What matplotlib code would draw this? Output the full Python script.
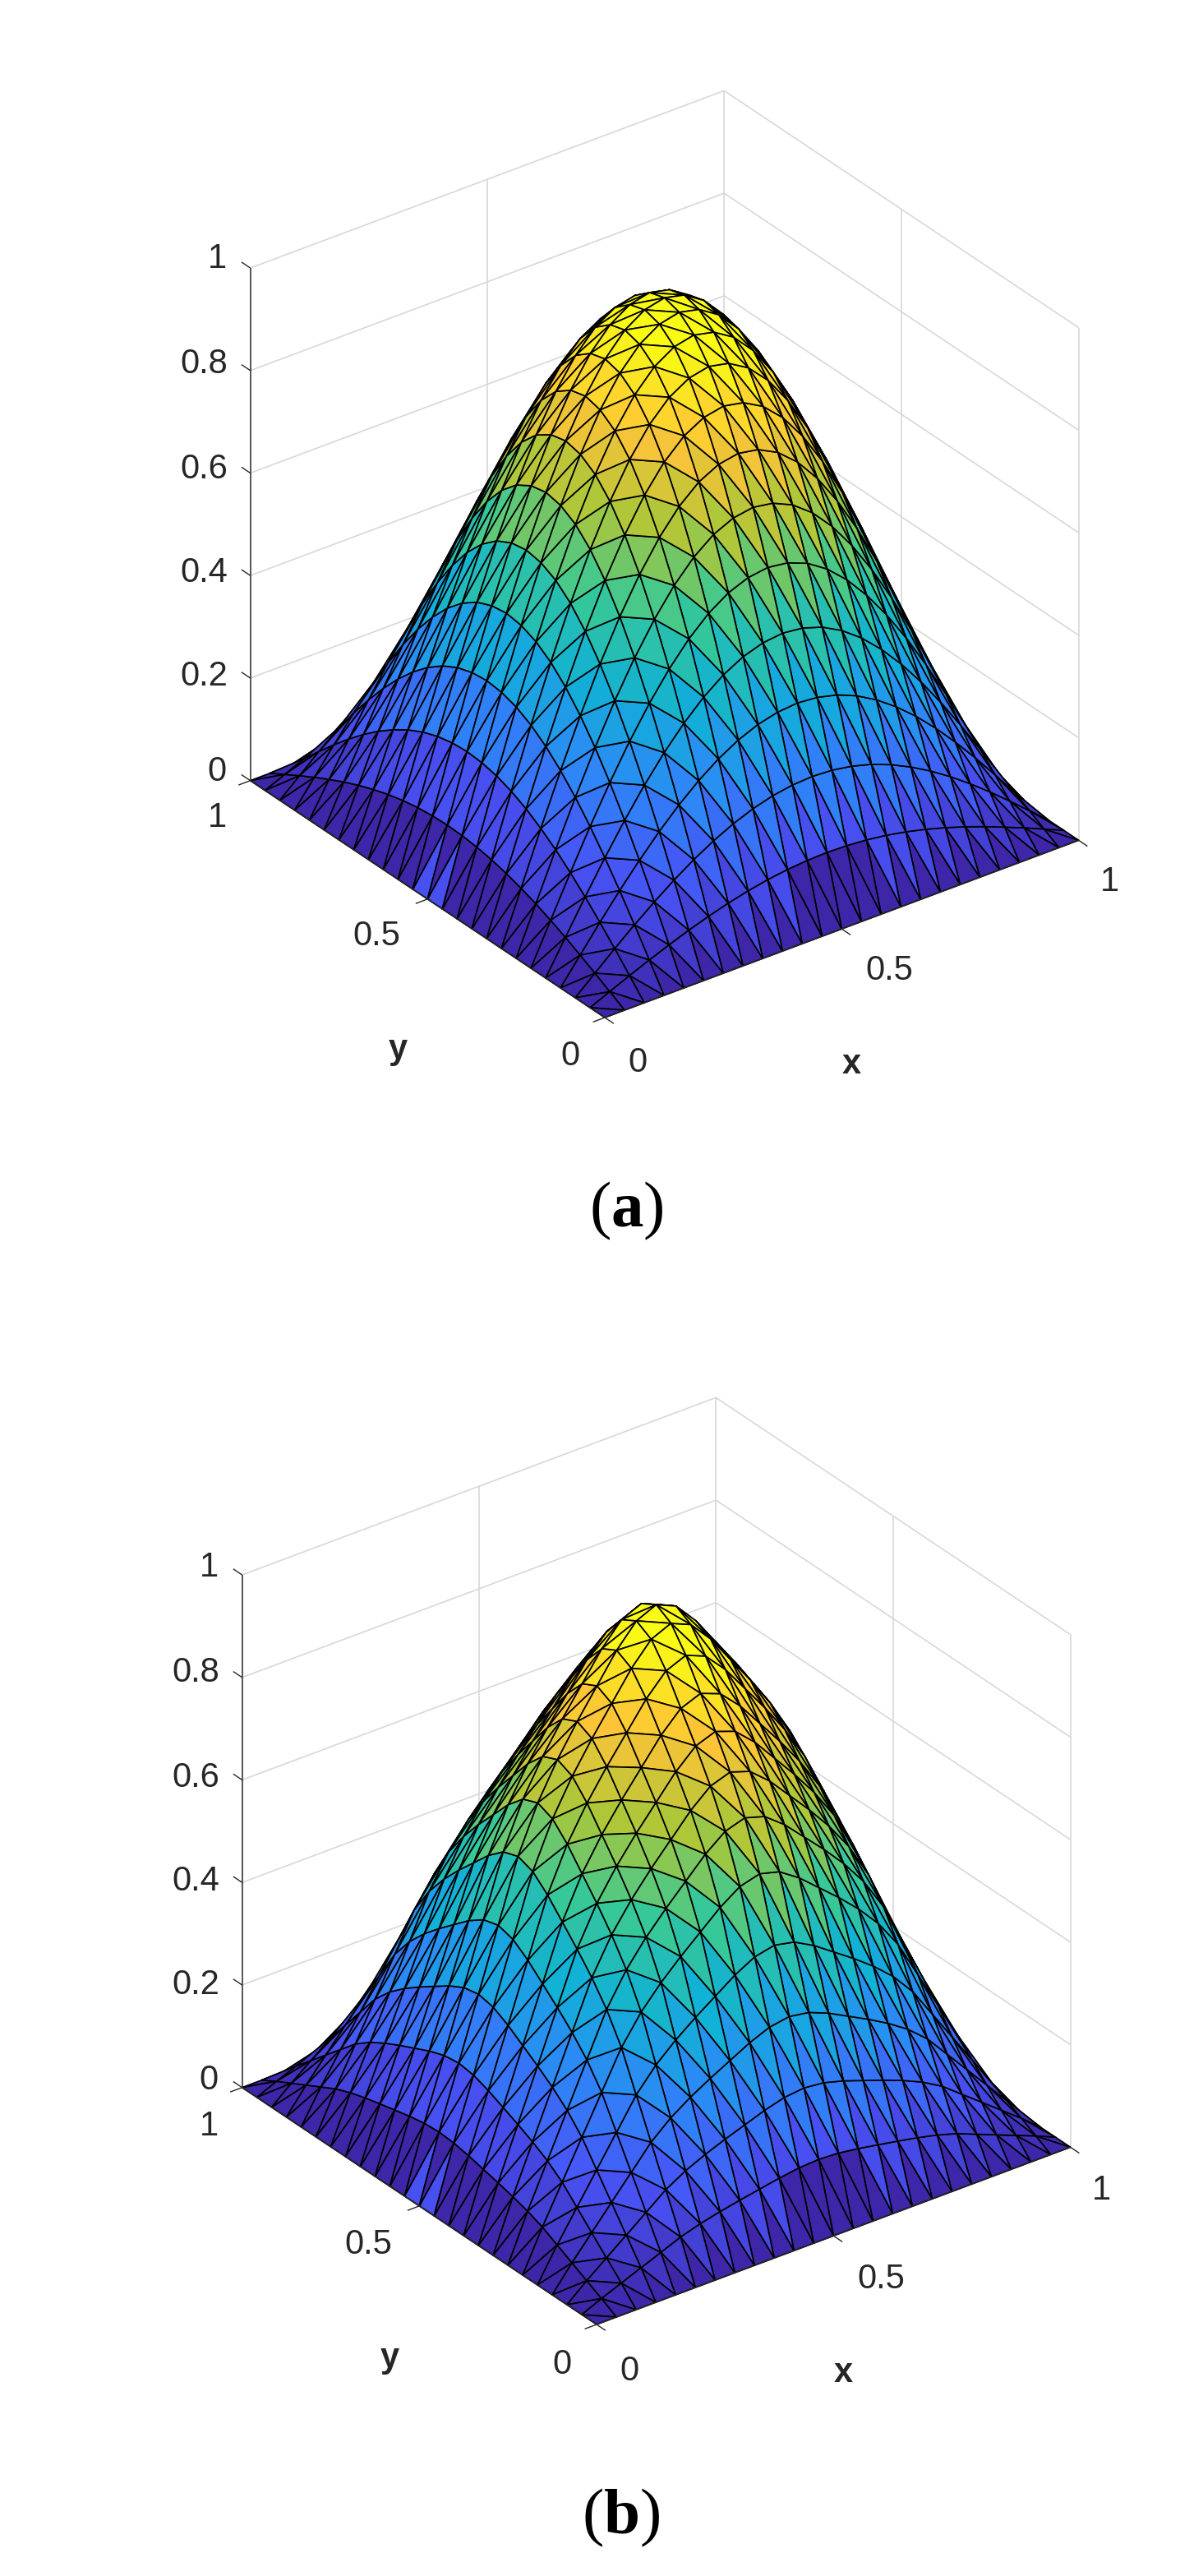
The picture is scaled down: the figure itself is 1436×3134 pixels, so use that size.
import numpy as np
import matplotlib
matplotlib.use("Agg")
import matplotlib.pyplot as plt
from matplotlib.colors import LinearSegmentedColormap
from mpl_toolkits.mplot3d.art3d import Poly3DCollection
from mpl_toolkits.mplot3d import proj3d

plt.rcParams['mathtext.fontset'] = 'custom'
plt.rcParams['mathtext.rm'] = 'Liberation Serif'
plt.rcParams['mathtext.bf'] = 'Liberation Serif:bold'

# height profile along one grid line (nodes 0..24) (a) and (b)
profile_a = [0.000,0.130,0.259,0.383,0.500,0.609,0.707,0.793,0.866,0.924,0.966,0.991,1.000,
             0.991,0.966,0.924,0.866,0.793,0.707,0.609,0.500,0.383,0.259,0.130,0.000]
profile_b = [0.000,0.130,0.250,0.370,0.490,0.610,0.700,0.770,0.830,0.885,0.940,0.983,1.000,
             0.983,0.940,0.885,0.830,0.770,0.700,0.610,0.490,0.370,0.250,0.130,0.000]
z_ticks = [0,0.2,0.4,0.6,0.8,1]
z_ticklabels = ['0','0.2','0.4','0.6','0.8','1']
xy_ticks = [0,0.5,1]
xy_ticklabels = ['0','0.5','1']
parula_colors = [(0.2422,0.1504,0.6603),(0.2810,0.3228,0.9579),(0.1786,0.5289,0.9682),
                 (0.0689,0.6948,0.8394),(0.2161,0.7843,0.5923),(0.6720,0.7793,0.2227),
                 (0.9970,0.7659,0.2199),(0.9769,0.9839,0.0805)]
CLIM_TOP = 0.95
# grid cells of the front strips whose facets are coloured differently in the reference
dark_strip_cells = [10, 11, 12, 13]       # along the y=0 edge
bright_strip_cells = [11, 12]             # along the x=0 edge

W, H = 1436, 3134
DPI = 100
fig = plt.figure(figsize=(W/DPI, H/DPI), dpi=DPI, facecolor='white')
cmap = LinearSegmentedColormap.from_list('parula', parula_colors, N=256)
TXT = '#262626'
GRID = '#d8d8d8'
FS = 30

def panel(profile, ox, oy, caption, cap_xy, lab):
    ax = fig.add_axes([0.0, 0.0, 1.0, 1.0], projection='3d', proj_type='ortho', facecolor='none')
    ax.set_xlim(0, 1); ax.set_ylim(0, 1); ax.set_zlim(0, 1)
    ax.set_box_aspect((1, 1, 1))
    ax.view_init(elev=30, azim=-126.8)
    ax.set_axis_off()
    ax.computed_zorder = False
    fig.canvas.draw()
    def px(p):
        a, b, _ = proj3d.proj_transform(p[0], p[1], p[2], ax.get_proj())
        return ax.transData.transform((a, b))
    xc = px((1, 0, 0)); yc = px((0, 1, 0))
    s = 1008.0 / (xc[0] - yc[0])
    pos = ax.get_position()
    ax.set_position([pos.x0, pos.y0, pos.width * s, pos.height * s])
    fig.canvas.draw()
    o = px((0, 0, 0))
    pos = ax.get_position()
    ax.set_position([pos.x0 + (ox - o[0]) / W, pos.y0 + ((H - oy) - o[1]) / H, pos.width, pos.height])

    def line(a, b, c=GRID, lw=1.2, zo=1):
        ax.plot([a[0], b[0]], [a[1], b[1]], [a[2], b[2]], color=c, lw=lw, zorder=zo, solid_capstyle='butt')

    for t in z_ticks:
        line((0, 1, t), (1, 1, t)); line((1, 1, t), (1, 0, t))
    line((1, 1, 0), (1, 1, 1)); line((1, 0, 0), (1, 0, 1))
    line((0.5, 1, 0), (0.5, 1, 1)); line((1, 0.5, 0), (1, 0.5, 1))

    f = np.array(profile)
    n = len(f) - 1
    g = np.linspace(0, 1, n + 1)
    Z = np.outer(f, f)
    verts, vals = [], []
    for i in range(n):
        for j in range(n):
            verts.append([(g[i], g[j], Z[i, j]), (g[i+1], g[j], Z[i+1, j]), (g[i], g[j+1], Z[i, j+1])])
            vals.append(Z[1, j] if (i == 0 and j in bright_strip_cells) else Z[i, j])
            verts.append([(g[i+1], g[j+1], Z[i+1, j+1]), (g[i+1], g[j], Z[i+1, j]), (g[i], g[j+1], Z[i, j+1])])
            vals.append(0.0 if (j == 0 and i in dark_strip_cells) else Z[i, j+1])
    vals = np.array(vals)
    pc = Poly3DCollection(verts, facecolors=cmap(np.clip(vals / CLIM_TOP, 0, 1)),
                          edgecolors='black', linewidths=1.25, zorder=3)
    ax.add_collection3d(pc)

    line((0, 1, 0), (0, 1, 1), TXT, 1.1, 5)
    line((0, 0, 0), (1, 0, 0), TXT, 1.1, 5)
    line((0, 0, 0), (0, 1, 0), TXT, 1.1, 5)
    tl = 0.025
    for t in z_ticks:
        line((0, 1, t), (0, 1 + tl, t), TXT, 1.0, 5)
    for t in xy_ticks:
        line((t, 0, 0), (t, -tl, 0), TXT, 1.0, 5)
        line((0, t, 0), (-tl, t, 0), TXT, 1.0, 5)

    def T(x, y, s, **kw):
        fig.text((x + lab[0]) / W, 1 - (y + lab[1]) / H, s, ha='center', va='center',
                 family='Liberation Sans', fontsize=FS, color=TXT, **kw)
    for lb, (lx, ly) in zip(z_ticklabels, [(-480, -304), (-496, -420), (-496, -546), (-496, -672), (-496, -800), (-480, -928)]):
        T(lx, ly, lb)
    for lb, (lx, ly) in zip(xy_ticklabels, [(-50, 42), (-286, -104), (-480, -248)]):
        T(lx, ly, lb)
    for lb, (lx, ly) in zip(xy_ticklabels, [(32, 50), (338, -62), (606, -170)]):
        T(lx, ly, lb)
    T(-260, 34, 'y', fontweight='bold')
    T(292, 52, 'x', fontweight='bold')
    fig.text(cap_xy[0] / W, 1 - cap_xy[1] / H, caption, ha='center', va='center',
             family='Liberation Serif', fontsize=57, color='black')

panel(profile_a, 736, 1238, r'($\mathbf{a}$)', (762, 1473), (744, 1243))
panel(profile_b, 726, 2828, r'($\mathbf{b}$)', (756, 3063), (734, 2835))
fig.savefig('out.png', dpi=DPI, facecolor='white')
